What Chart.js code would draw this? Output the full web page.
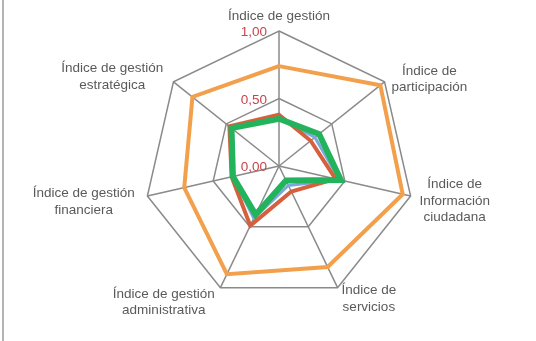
<!DOCTYPE html>
<html>
<head>
<meta charset="utf-8">
<script src="https://cdn.jsdelivr.net/npm/chart.js@4"></script>
<style>
  body { margin: 0; background: #fff; }
  #cadre { position: relative; width: 536px; height: 341px; }
  #bord { position: absolute; left: 2px; top: 0; width: 2px; height: 341px; background: #b4b4b4; }
</style>
</head>
<body>
<div id="cadre">
  <canvas id="graphique-radar" width="536" height="341"></canvas>
  <div id="bord"></div>
</div>
<script>
// Ejes del radar (una línea por fila de texto)
const categorias = [
    ["Índice de gestión"],
    ["Índice de", "participación"],
    ["Índice de", "Información", "ciudadana"],
    ["Índice de", "servicios"],
    ["Índice de gestión", "administrativa"],
    ["Índice de gestión", "financiera"],
    ["Índice de gestión", "estratégica"]
]
// Series
const serieNaranja = [0.74, 0.96, 0.94, 0.83, 0.89, 0.72, 0.82]
const serieAzul = [0.36, 0.34, 0.46, 0.16, 0.43, 0.35, 0.45]
const serieRoja = [0.38, 0.30, 0.43, 0.21, 0.49, 0.36, 0.47]
const serieVerde = [0.35, 0.38, 0.47, 0.12, 0.40, 0.35, 0.45]
// Marcas del eje radial
const valoresTicks = [0, 0.5, 1]
const etiquetasTicks = ["0,00", "0,50", "1,00"]

const fuente = '13.5px "Liberation Sans", Arial, sans-serif'

// Textos de los ejes y de la escala
const etiquetasPlugin = {
    id: "etiquetas",
    afterDraw(chart) {
        const r = chart.scales.r
        const ctx = chart.ctx
        ctx.save()
        ctx.font = fuente
        ctx.textBaseline = "middle"
        ctx.textAlign = "center"
        ctx.fillStyle = "#5a5a5a"
        const alto = 16.5
        categorias.forEach((lineas, i) => {
            const angulo = r.getPointPosition(i, 1).angle
            const cos = Math.cos(angulo)
            const vertical = Math.abs(cos) < 0.01
            const margen = vertical ? 6 : (cos < 0 ? 13 : 9)
            const p = r.getPointPosition(i, r.drawingArea + margen)
            const ancho = Math.max(...lineas.map(l => ctx.measureText(l).width))
            const h = lineas.length * alto
            let cx = p.x
            let cy = p.y
            if (vertical) {
                cy -= h / 2
            } else {
                cx += Math.sign(cos) * ancho / 2
                cy += 3
            }
            lineas.forEach((l, j) => {
                ctx.fillText(l, cx, cy - h / 2 + alto / 2 + j * alto)
            })
        })
        ctx.textAlign = "right"
        ctx.fillStyle = "#c8444a"
        valoresTicks.forEach((v, k) => {
            const y = r.yCenter - r.getDistanceFromCenterForValue(v)
            ctx.fillText(etiquetasTicks[k], r.xCenter - 12, y + 1.5)
        })
        ctx.restore()
    }
}

// El primer conjunto se dibuja encima
const data = {
    labels: categorias,
    datasets: [
        { label: "Serie 4", data: serieVerde, borderColor: "#22b35c", borderWidth: 6 },
        { label: "Serie 3", data: serieRoja, borderColor: "#d5603d", borderWidth: 4 },
        { label: "Serie 2", data: serieAzul, borderColor: "#7ea8dc", borderWidth: 3 },
        { label: "Serie 1", data: serieNaranja, borderColor: "#f2a04c", borderWidth: 4 }
    ]
}

const config = {
    type: "radar",
    data: data,
    options: {
        responsive: false,
        animation: false,
        layout: { padding: { top: 31, bottom: 40, left: 144, right: 122 } },
        elements: {
            point: { radius: 0 },
            line: { tension: 0, fill: false, borderJoinStyle: "miter" }
        },
        plugins: { legend: { display: false }, tooltip: { enabled: false } },
        scales: {
            r: {
                min: 0,
                max: 1,
                ticks: { display: false, stepSize: 0.5 },
                pointLabels: { display: false },
                grid: { color: "#8a8a8a", lineWidth: 1.5 },
                angleLines: { color: "#8a8a8a", lineWidth: 1.5 }
            }
        }
    },
    plugins: [etiquetasPlugin]
}

const graphiqueRadar = new Chart(document.querySelector("#graphique-radar"), config)
</script>
</body>
</html>
